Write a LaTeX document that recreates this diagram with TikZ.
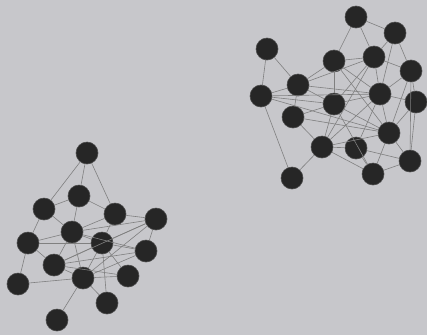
\documentclass[tikz,border=0pt]{standalone}
\begin{document}
\begin{tikzpicture}[x=1pt,y=-1pt,
  vtx/.style={circle,fill=black!85,draw=black!70,line width=0.6pt,minimum size=22pt,inner sep=0pt},
  lnk/.style={draw=black!50,line width=0.6pt}]
\fill[gray!40!blue!3!white!80!black] (0,0) rectangle (427,335);
\useasboundingbox (0,0) rectangle (427,335);
% right cluster
\node[vtx] (A) at (356,17) {};
\node[vtx] (B) at (395,33) {};
\node[vtx] (C) at (267,49) {};
\node[vtx] (D) at (334,61) {};
\node[vtx] (E) at (374,57) {};
\node[vtx] (F) at (411,71) {};
\node[vtx] (G) at (298,85) {};
\node[vtx] (H) at (261,96) {};
\node[vtx] (I) at (334,104) {};
\node[vtx] (J) at (380,94) {};
\node[vtx] (K) at (416,102) {};
\node[vtx] (L) at (293,117) {};
\node[vtx] (M) at (389,133) {};
\node[vtx] (N) at (322,147) {};
\node[vtx] (O) at (356,148) {};
\node[vtx] (P) at (410,161) {};
\node[vtx] (Q) at (292,178) {};
\node[vtx] (R) at (373,174) {};
% left cluster
\node[vtx] (a) at (87,153) {};
\node[vtx] (b) at (79,196) {};
\node[vtx] (c) at (44,209) {};
\node[vtx] (d) at (115,214) {};
\node[vtx] (e) at (156,219) {};
\node[vtx] (f) at (72,232) {};
\node[vtx] (g) at (28,243) {};
\node[vtx] (h) at (102,243) {};
\node[vtx] (i) at (146,251) {};
\node[vtx] (j) at (54,265) {};
\node[vtx] (k) at (83,278) {};
\node[vtx] (l) at (128,276) {};
\node[vtx] (m) at (18,284) {};
\node[vtx] (n) at (107,303) {};
\node[vtx] (o) at (57,320) {};
% edges
\foreach \u/\v in {A/B,A/E,A/D,B/E,B/F,B/J,C/G,C/H,D/E,D/G,D/I,D/J,D/M,
  E/F,E/J,E/G,E/I,E/N,F/J,F/K,F/P,F/M,G/H,G/I,G/J,G/L,H/I,H/Q,H/M,H/J,
  I/J,I/L,I/N,I/M,I/R,J/K,J/M,J/O,J/N,K/M,K/P,L/N,L/M,M/P,M/R,M/N,
  N/O,N/Q,N/R,O/R,O/P,R/P}
  \draw[lnk] (\u) -- (\v);
\foreach \u/\v in {a/c,a/b,a/d,b/c,b/d,b/f,c/f,c/g,d/f,d/e,d/h,e/f,e/h,e/j,
  e/k,e/i,f/g,f/h,f/j,f/k,f/i,g/h,g/j,g/m,h/j,h/k,h/i,h/l,h/n,i/k,i/j,
  j/k,j/l,k/l,k/m,k/n,k/o}
  \draw[lnk] (\u) -- (\v);
\end{tikzpicture}
\end{document}
